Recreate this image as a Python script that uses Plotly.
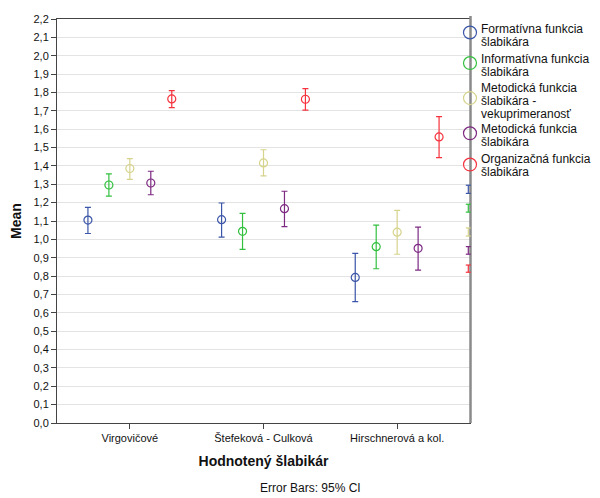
import plotly.graph_objects as go

# ---- data ----
categories = ["Virgovičové", "Štefeková - Culková", "Hirschnerová a kol."]
series_names = [
    "Formatívna funkcia šlabikára",
    "Informatívna funkcia šlabikára",
    "Metodická funkcia šlabikára - vekuprimeranosť",
    "Metodická funkcia šlabikára",
    "Organizačná funkcia šlabikára",
]
legend_lines = [
    ["Formatívna funkcia", "šlabikára"],
    ["Informatívna funkcia", "šlabikára"],
    ["Metodická funkcia", "šlabikára -", "vekuprimeranosť"],
    ["Metodická funkcia", "šlabikára"],
    ["Organizačná funkcia", "šlabikára"],
]
means = [
    [1.105, 1.107, 0.793],
    [1.296, 1.044, 0.960],
    [1.386, 1.416, 1.039],
    [1.307, 1.167, 0.951],
    [1.765, 1.763, 1.558],
]
ci_high = [
    [1.174, 1.198, 0.924],
    [1.357, 1.141, 1.078],
    [1.440, 1.488, 1.158],
    [1.371, 1.262, 1.067],
    [1.810, 1.821, 1.668],
]
ci_low = [
    [1.032, 1.012, 0.661],
    [1.236, 0.946, 0.840],
    [1.327, 1.346, 0.919],
    [1.243, 1.069, 0.833],
    [1.717, 1.704, 1.445],
]
colors = ["#3b55a8", "#33c03f", "#d6d38c", "#7d2a82", "#f5323d"]
y_ticks = [round(i * 0.1, 1) for i in range(23)]

# ---- layout geometry (reference pixels; page body adds an 8px offset) ----
OFF = 8
W, H = 600 - OFF, 498 - OFF
L, R, T, B = 57, 470, 13, 423


def px(x):
    return (x - L) / (R - L)


def py(y):
    return (B - y) / (B - T)


fig = go.Figure()
for i, name in enumerate(series_names):
    fig.add_trace(go.Scatter(
        x=categories,
        y=means[i],
        name=name,
        mode="markers",
        offsetgroup=str(i),
        marker=dict(symbol="circle-open", size=8, color=colors[i], line=dict(width=1.2)),
        error_y=dict(
            type="data",
            symmetric=False,
            array=[h - m for h, m in zip(ci_high[i], means[i])],
            arrayminus=[m - l for m, l in zip(means[i], ci_low[i])],
            color=colors[i],
            thickness=1.2,
            width=3,
        ),
        showlegend=False,
        hoverinfo="skip",
    ))

shapes = []
annotations = []

# right border / legend divider
shapes.append(dict(type="line", xref="paper", yref="paper", x0=px(470.5), x1=px(470.5),
                   y0=py(B), y1=py(10), line=dict(color="#8a8a8a", width=2.5)))

# manual legend
circle_y = [26.7, 57.7, 93.3, 129, 160.7]
line_y = [[23.3, 36.6], [53.3, 66.6], [82.7, 96, 109.3], [125, 138.3], [155, 168.3]]
for i in range(len(series_names)):
    cy = circle_y[i]
    shapes.append(dict(type="circle", xref="paper", yref="paper",
                       x0=px(470 - 6.5), x1=px(470 + 6.5), y0=py(cy + 6.5), y1=py(cy - 6.5),
                       line=dict(color=colors[i], width=1.2)))
    for txt, ly in zip(legend_lines[i], line_y[i]):
        annotations.append(dict(text=txt, xref="paper", yref="paper", x=px(479), y=py(ly),
                                xanchor="left", yanchor="middle", showarrow=False,
                                font=dict(size=12, color="#111111")))

# small error-bar glyphs of the legend at the right edge
glyph_y = [(181.7, 190), (201, 209), (225, 233.3), (244, 251.7), (262.7, 270)]
for i, (y0, y1) in enumerate(glyph_y):
    gx = 468.3
    shapes.append(dict(type="line", xref="paper", yref="paper", x0=px(gx), x1=px(gx),
                       y0=py(y0), y1=py(y1), line=dict(color=colors[i], width=1.2)))
    for yy in (y0, y1):
        shapes.append(dict(type="line", xref="paper", yref="paper", x0=px(gx - 2.5), x1=px(gx + 2.5),
                           y0=py(yy), y1=py(yy), line=dict(color=colors[i], width=1.2)))

annotations.append(dict(text="Error Bars: 95% CI", xref="paper", yref="paper",
                        x=px(310), y=py(489), xanchor="center", yanchor="middle",
                        showarrow=False, font=dict(size=12, color="#111111")))

fig.update_layout(
    width=W, height=H,
    margin=dict(l=L - OFF, r=600 - R, t=T - OFF, b=498 - B, pad=0),
    paper_bgcolor="white", plot_bgcolor="white",
    font=dict(family="Liberation Sans, Arial, sans-serif", size=11, color="#111111"),
    separators=",.",
    scattermode="group",
    scattergap=0.216,
    shapes=shapes,
    annotations=annotations,
    xaxis=dict(
        type="category",
        categoryorder="array", categoryarray=categories,
        range=[-0.545, 2.545],
        showgrid=False, zeroline=False,
        showline=True, linecolor="#444444", linewidth=1, mirror=True,
        ticks="outside", ticklen=5, tickcolor="#444444",
        tickfont=dict(size=11),
        title=dict(text="<b>Hodnotený šlabikár</b>", font=dict(size=14), standoff=12),
    ),
    yaxis=dict(
        range=[0, 2.2],
        tickvals=y_ticks,
        tickformat=".1f",
        ticklabeloverflow="allow",
        showgrid=True, gridcolor="#e3e3e3", gridwidth=1,
        zeroline=False,
        showline=True, linecolor="#444444", linewidth=1, mirror=True,
        ticks="outside", ticklen=5, tickcolor="#444444",
        tickfont=dict(size=11),
        title=dict(text="<b>Mean</b>", font=dict(size=14), standoff=8),
    ),
)

fig.write_html("out.html")
